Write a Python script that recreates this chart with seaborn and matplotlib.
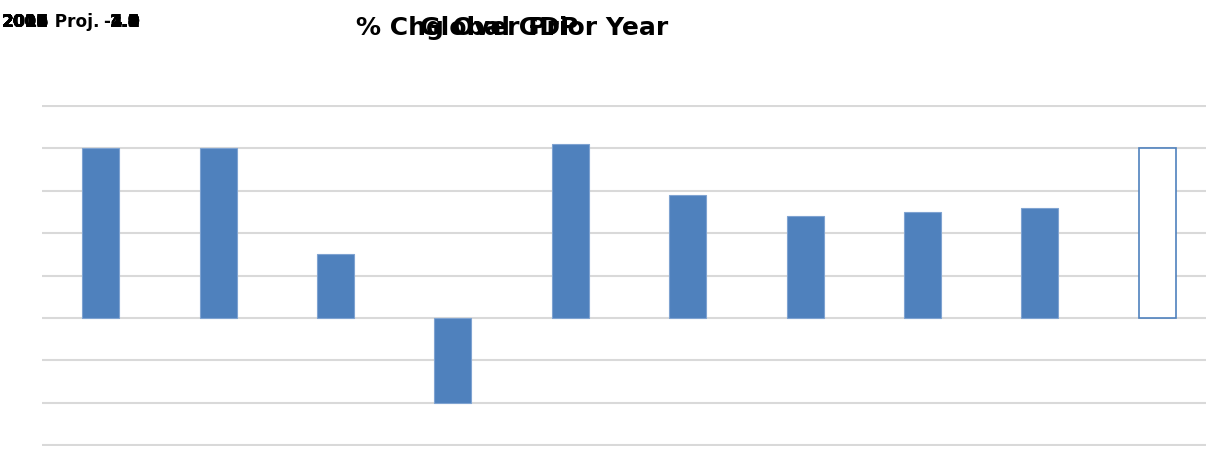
import matplotlib
matplotlib.use("Agg")
import matplotlib.pyplot as plt
import seaborn as sns
import pandas as pd

years = ["2006", "2007", "2008", "2009", "2010", "2011", "2012", "2013", "2014", "2015 Proj."]
gdp_change = [4.0, 4.0, 1.5, -2.0, 4.1, 2.9, 2.4, 2.5, 2.6, 4.0]
y_ticks = [-3, -2, -1, 0, 1, 2, 3, 4, 5]

BLUE = "#4F81BD"
GRID = "#D9D9D9"

sns.set_theme(style="white")
plt.rcParams["font.family"] = ["DejaVu Sans"]
plt.rcParams["text.color"] = "black"

df = pd.DataFrame({"Year": years, "GDP": gdp_change})

fig = plt.figure(figsize=(12.06, 4.65), dpi=100)
ax = fig.add_axes([42 / 1206, 19 / 465, 1174 / 1206, 341 / 465])

sns.barplot(data=df, x="Year", y="GDP", color=BLUE, width=0.315, saturation=1,
            edgecolor="#7FA3D1", linewidth=0.8, ax=ax, zorder=3)
# projected year is drawn as an outline only
last = ax.patches[len(years) - 1]
last.set_facecolor("white")
last.set_edgecolor(BLUE)
last.set_linewidth(1.2)

ax.set_ylim(-3.02, 5.02)
ax.set_xlim(-0.5, len(years) - 0.5)
ax.set_yticks(y_ticks)
ax.yaxis.grid(True, color=GRID, linewidth=1.5, zorder=0)
ax.set_axisbelow(True)
ax.tick_params(left=False, bottom=False, labelleft=False, labelbottom=False)
ax.set_xlabel("")
ax.set_ylabel("")
sns.despine(ax=ax, left=True, bottom=True)

# title and subtitle, drawn on top of each other
fig.text(512 / 1206, 0.94, "% Chg Over Prior Year", ha="center", va="center",
         fontsize=18, fontweight="bold")
fig.text(499 / 1206, 0.94, "Global GDP", ha="center", va="center",
         fontsize=18, fontweight="bold")

# hover labels, all stacked in the corner
for yr, val in zip(years, gdp_change):
    fig.text(2 / 1206, 0.953, yr, ha="left", va="center", fontsize=12.2, fontweight="bold")
    fig.text(140 / 1206, 0.953, f"{val:.1f}", ha="right", va="center", fontsize=12.2,
             fontweight="bold")

fig.savefig("out.png", dpi=100)
